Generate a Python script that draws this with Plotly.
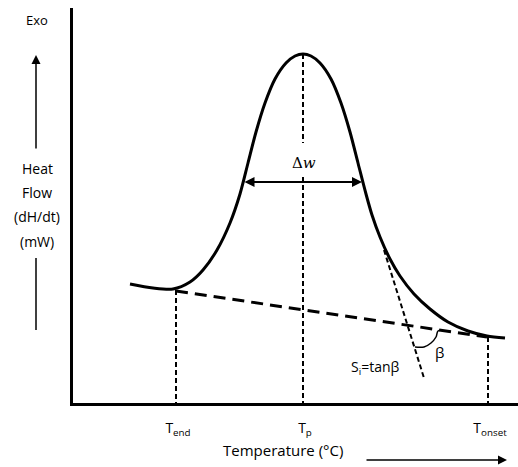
import plotly.graph_objects as go

# ---- data (schematic DSC curve; units = plot units) ----
# points along the heat-flow curve (x, y)
curve_x = [130, 153, 173, 190, 203, 217, 230, 240, 248, 256, 265, 275, 286, 295, 303,
           311, 320, 331, 341, 350, 358, 366, 372, 380, 390, 400, 414, 430, 448, 468, 487, 505]
curve_y = [119, 115, 114, 121, 133, 153, 180, 209, 240, 271, 300, 324, 340, 347, 349,
           347, 340, 324, 300, 271, 240, 209, 188, 166, 144, 127, 109, 94, 81, 72, 67, 65]

baseline_x = [176, 487]
baseline_y = [112, 66]

tangent_x = [384, 424]
tangent_y = [153, 25]

arc_x = [415, 424, 431, 436, 438, 443]
arc_y = [56, 56, 60, 66, 72, 73]

tick_vals = [178, 305, 490]
tick_text = ["T<sub>end</sub>", "T<sub>p</sub>", "T<sub>onset</sub>"]

# vertical guide lines
guides_x = [176, 303, 303, 488]
guides_top = [113, 349, 226, 66]
guides_bot = [0, 260, 0, 0]

halfwidth_left, halfwidth_right, halfwidth_y = 243, 362, 221

ylabel_lines = ["Heat", "Flow", "(dH/dt)", "(mW)"]

FONT = "Open Sans, sans-serif"

fig = go.Figure()

fig.add_trace(go.Scatter(x=curve_x, y=curve_y, mode="lines",
                         line=dict(color="black", width=3, shape="spline", smoothing=0.8),
                         hoverinfo="skip"))
fig.add_trace(go.Scatter(x=baseline_x, y=baseline_y, mode="lines",
                         line=dict(color="black", width=3, dash="12px,7px"), hoverinfo="skip"))
fig.add_trace(go.Scatter(x=tangent_x, y=tangent_y, mode="lines",
                         line=dict(color="black", width=2, dash="5px,3px"), hoverinfo="skip"))
fig.add_trace(go.Scatter(x=arc_x, y=arc_y, mode="lines",
                         line=dict(color="black", width=1.5, shape="spline"), hoverinfo="skip"))
for gx, gt, gb in zip(guides_x, guides_top, guides_bot):
    fig.add_trace(go.Scatter(x=[gx, gx], y=[gt, gb], mode="lines",
                             line=dict(color="black", width=2, dash="5px,3px"), hoverinfo="skip"))

L, B, T = 73, 64, 8
W, H = 518, 467
PW, PH = W - L, H - B - T


def px(x):
    return (x - L) / PW


def py(y):
    return (H - B - y) / PH


def txt(x, y, s, size=14, family=FONT):
    return dict(x=px(x), y=py(y), xref="paper", yref="paper", text=s, showarrow=False,
                xanchor="center", yanchor="middle",
                font=dict(family=family, size=size, color="black"))


ann = []
# half width double arrow
ann.append(dict(x=halfwidth_right, y=halfwidth_y, ax=halfwidth_left, ay=halfwidth_y,
                xref="x", yref="y", axref="x", ayref="y", text="", showarrow=True,
                arrowhead=2, arrowside="end+start", arrowwidth=2, arrowsize=1, arrowcolor="black"))
ann.append(txt(304, 163, "Δ<i>w</i>", size=15, family="DejaVu Serif, serif"))
ann.append(txt(439, 352, "β", size=15))
ann.append(txt(375, 367, "S<sub>i</sub>=tanβ", size=14))
# y label
ann.append(txt(37, 20, "Exo", size=13))
for i, s in enumerate(ylabel_lines):
    ann.append(txt(37, 168 + i * 24.5, s, size=14))
ann.append(dict(x=px(36), y=py(55), ax=0, ay=95, xref="paper", yref="paper",
                axref="pixel", ayref="pixel", text="", showarrow=True, arrowhead=2,
                arrowwidth=1.5, arrowsize=1.2, arrowcolor="black"))
# x label
ann.append(txt(283, 450, "Temperature (°C)", size=15))
ann.append(dict(x=px(507), y=py(460), ax=-142, ay=0, xref="paper", yref="paper",
                axref="pixel", ayref="pixel", text="", showarrow=True, arrowhead=2,
                arrowwidth=1.5, arrowsize=1.2, arrowcolor="black"))

shapes = [dict(type="line", xref="paper", yref="paper", x0=px(36), x1=px(36),
               y0=py(258), y1=py(330), line=dict(color="black", width=1.5))]

fig.update_layout(
    width=W, height=H, margin=dict(l=L, r=0, t=T, b=B),
    paper_bgcolor="white", plot_bgcolor="white", showlegend=False,
    annotations=ann, shapes=shapes,
    xaxis=dict(range=[L, W], showgrid=False, zeroline=False, showline=True,
               linecolor="black", linewidth=3, tickvals=tick_vals, ticktext=tick_text,
               ticks="", ticklabelstandoff=10, tickfont=dict(family=FONT, size=14, color="black")),
    yaxis=dict(range=[0, PH], showgrid=False, zeroline=False, showline=True,
               linecolor="black", linewidth=3, showticklabels=False, ticks=""),
)

fig.write_html("out.html")
